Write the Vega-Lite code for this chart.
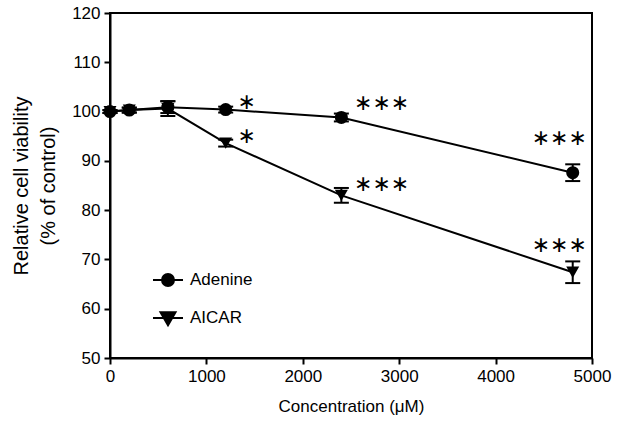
{
  "$schema": "https://vega.github.io/schema/vega-lite/v6.json",
  "width": 482,
  "height": 345,
  "autosize": {"type": "none"},
  "padding": {"left": 110, "top": 13, "right": 32, "bottom": 77},
  "background": "white",
  "config": {
    "view": {"stroke": "black", "strokeWidth": 2},
    "font": "Liberation Sans",
    "axis": {
      "domainColor": "black", "domainWidth": 2,
      "tickColor": "black", "tickWidth": 2, "tickSize": 6,
      "labelColor": "black", "titleColor": "black", "grid": false,
      "labelFont": "Liberation Sans", "titleFont": "Liberation Sans",
      "titleFontWeight": "normal", "labelFontSize": 17, "labelFlush": false, "labelOverlap": false
    },
    "legend": {
      "orient": "none", "symbolSize": 900, "symbolFillColor": "black", "symbolStrokeColor": "black",
      "symbolStrokeWidth": 2, "symbolOpacity": 1, "labelFontSize": 17, "labelFont": "Liberation Sans",
      "labelColor": "black", "labelOffset": 6, "padding": 0
    }
  },
  "datasets": {
    "points": [
      {"series": "Adenine", "conc": 0, "mean": 100.0, "err": 0.3},
      {"series": "Adenine", "conc": 200, "mean": 100.3, "err": 0.5},
      {"series": "Adenine", "conc": 600, "mean": 100.9, "err": 1.2},
      {"series": "Adenine", "conc": 1200, "mean": 100.4, "err": 0.6},
      {"series": "Adenine", "conc": 2400, "mean": 98.8, "err": 0.8},
      {"series": "Adenine", "conc": 4800, "mean": 87.6, "err": 1.7},
      {"series": "AICAR", "conc": 0, "mean": 100.0, "err": 0.3},
      {"series": "AICAR", "conc": 200, "mean": 100.3, "err": 0.5},
      {"series": "AICAR", "conc": 600, "mean": 100.6, "err": 1.5},
      {"series": "AICAR", "conc": 1200, "mean": 93.6, "err": 0.7},
      {"series": "AICAR", "conc": 2400, "mean": 83.0, "err": 1.5},
      {"series": "AICAR", "conc": 4800, "mean": 67.4, "err": 2.2}
    ],
    "sig": [
      {"conc": 1418, "y": 102.0, "label": "\u2217"},
      {"conc": 1418, "y": 95.0, "label": "\u2217"},
      {"conc": 2818, "y": 101.7, "label": "\u2217\u2217\u2217"},
      {"conc": 2818, "y": 85.3, "label": "\u2217\u2217\u2217"},
      {"conc": 4661, "y": 94.6, "label": "\u2217\u2217\u2217"},
      {"conc": 4661, "y": 72.9, "label": "\u2217\u2217\u2217"}
    ]
  },
  "encoding": {
    "x": {"field": "conc", "type": "quantitative", "title": "Concentration (\u03bcM)",
          "scale": {"domain": [0, 5000], "nice": false, "zero": false},
          "axis": {"values": [0, 1000, 2000, 3000, 4000, 5000], "format": "d",
                   "titleFontSize": 17, "titlePadding": 14, "labelPadding": 4}},
    "y": {"field": "mean", "type": "quantitative", "title": ["Relative cell viability", "(% of control)"],
          "scale": {"domain": [50, 120], "nice": false, "zero": false},
          "axis": {"values": [50, 60, 70, 80, 90, 100, 110, 120], "format": "d",
                   "titleFontSize": 20, "titleLineHeight": 27, "titlePadding": 13, "labelPadding": 4}}
  },
  "layer": [
    {
      "data": {"name": "points"},
      "mark": {"type": "line", "color": "black", "strokeWidth": 2},
      "encoding": {"detail": {"field": "series"}}
    },
    {
      "data": {"name": "points"},
      "mark": {"type": "errorbar", "color": "black", "opacity": 1,
               "ticks": {"size": 15, "thickness": 2, "color": "black", "opacity": 1},
               "rule": {"strokeWidth": 2, "color": "black", "opacity": 1}},
      "encoding": {
        "yError": {"field": "err"}
      }
    },
    {
      "data": {"name": "points"},
      "mark": {"type": "point", "filled": true, "color": "black", "opacity": 1, "size": 170},
      "encoding": {
        "shape": {
          "field": "series", "type": "nominal",
          "scale": {"domain": ["Adenine", "AICAR"], "range": ["circle", "triangle-down"]},
          "legend": null
        }
      }
    },
    {
      "data": {"name": "points"},
      "transform": [{"filter": "datum.series === 'Adenine'"}],
      "mark": {"type": "point", "filled": true, "opacity": 0, "size": 900},
      "encoding": {
        "fill": {
          "field": "series", "type": "nominal",
          "scale": {"domain": ["Adenine"], "range": ["black"]},
          "legend": {
            "title": null, "legendX": 42, "legendY": 251,
            "symbolType": "M-1,0H1M-0.4,0A0.4,0.4 0 1,0 0.4,0A0.4,0.4 0 1,0 -0.4,0Z"
          }
        }
      }
    },
    {
      "data": {"name": "points"},
      "transform": [{"filter": "datum.series === 'AICAR'"}],
      "mark": {"type": "point", "filled": false, "opacity": 0, "size": 900, "fill": "black"},
      "encoding": {
        "stroke": {
          "field": "series", "type": "nominal",
          "scale": {"domain": ["AICAR"], "range": ["black"]},
          "legend": {
            "title": null, "legendX": 42, "legendY": 289,
            "symbolType": "M-1,0H1M-0.5,-0.38L0.5,-0.38L0,0.48Z"
          }
        }
      }
    },
    {
      "data": {"name": "sig"},
      "mark": {"type": "text", "fontSize": 22, "color": "black", "baseline": "middle", "align": "center", "font": "DejaVu Sans"},
      "encoding": {
        "y": {"field": "y", "type": "quantitative"},
        "text": {"field": "label"}
      }
    }
  ]
}
